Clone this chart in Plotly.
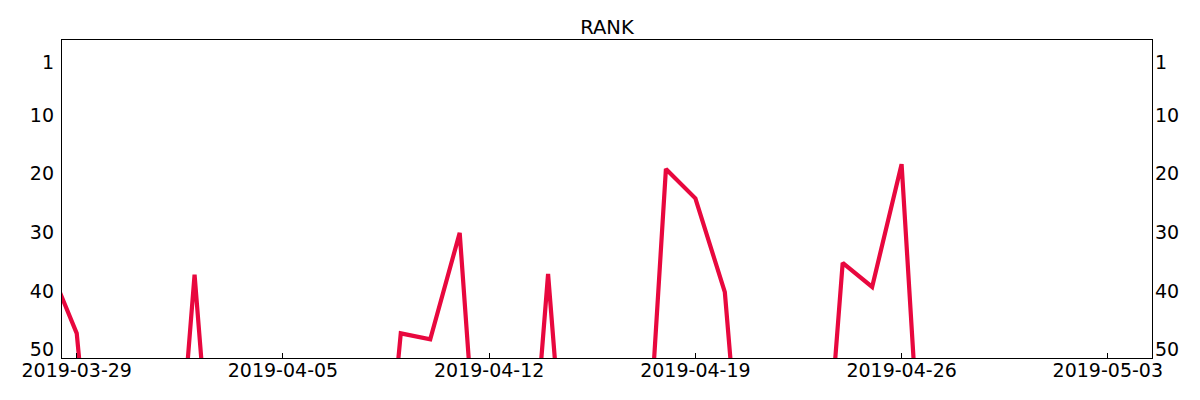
import plotly.graph_objects as go

dates = ["2019-03-28", "2019-03-29", "2019-03-30", "2019-03-31", "2019-04-01",
         "2019-04-02", "2019-04-03", "2019-04-04", "2019-04-05", "2019-04-06",
         "2019-04-07", "2019-04-08", "2019-04-09", "2019-04-10", "2019-04-11",
         "2019-04-12", "2019-04-13", "2019-04-14", "2019-04-15", "2019-04-16",
         "2019-04-17", "2019-04-18", "2019-04-19", "2019-04-20", "2019-04-21",
         "2019-04-22", "2019-04-23", "2019-04-24", "2019-04-25", "2019-04-26",
         "2019-04-27", "2019-04-28", "2019-04-29", "2019-04-30", "2019-05-01",
         "2019-05-02", "2019-05-03", "2019-05-04"]
rank = [35, 47.2, 100, 100, 100,
        37.2, 100, 100, 100, 100,
        100, 100, 47.2, 48.2, 30.1,
        100, 100, 37.1, 100, 100,
        100, 19.2, 24.2, 40.2, 100,
        100, 100, 35.2, 39.3, 18.4,
        100, 100, 100, 100, 100,
        100, 100, 100]

x_ticks = ["2019-03-29", "2019-04-05", "2019-04-12", "2019-04-19", "2019-04-26", "2019-05-03"]
y_ticks = [1, 10, 20, 30, 40, 50]
y_range = [51.4, -2.75]
x_range = ["2019-03-28 12:00", "2019-05-04 12:00"]

font = dict(family="DejaVu Sans", size=19, color="black")

fig = go.Figure()
fig.add_trace(go.Scatter(x=dates, y=rank, mode="lines",
                         line=dict(color="#e8083e", width=4.2),
                         showlegend=False))
# transparent copy so the right-hand rank axis is drawn
fig.add_trace(go.Scatter(x=dates, y=rank, mode="lines", yaxis="y2",
                         line=dict(color="rgba(0,0,0,0)", width=0),
                         hoverinfo="skip", showlegend=False))

fig.update_layout(
    width=1200, height=400,
    margin=dict(l=54, r=56, t=32, b=50, autoexpand=False),
    paper_bgcolor="white", plot_bgcolor="white",
    font=font,
    title=dict(text="RANK", x=0.5, xref="paper", y=1 - 19 / 400, yref="container",
               xanchor="center", yanchor="middle",
               font=dict(family="DejaVu Sans", size=19.5, color="black")),
    xaxis=dict(type="date", range=x_range, tickvals=x_ticks, ticktext=x_ticks,
               ticks="inside", ticklen=5, tickwidth=1, tickcolor="black",
               showline=True, linecolor="black", linewidth=1.3, mirror=True,
               showgrid=False, zeroline=False, tickfont=font, automargin=False,
               ticklabelstandoff=-5),
    yaxis=dict(range=y_range, tickvals=y_ticks, ticktext=[str(v) for v in y_ticks],
               ticks="", showline=True, linecolor="black", linewidth=1.3, mirror=True,
               showgrid=False, zeroline=False, tickfont=font, ticklabelstandoff=3,
               automargin=False),
    yaxis2=dict(range=y_range, tickvals=y_ticks, ticktext=[str(v) for v in y_ticks],
                overlaying="y", side="right", ticks="",
                showline=False, showgrid=False, zeroline=False, tickfont=font,
                ticklabelstandoff=2, automargin=False),
)

fig.write_html("out.html")
